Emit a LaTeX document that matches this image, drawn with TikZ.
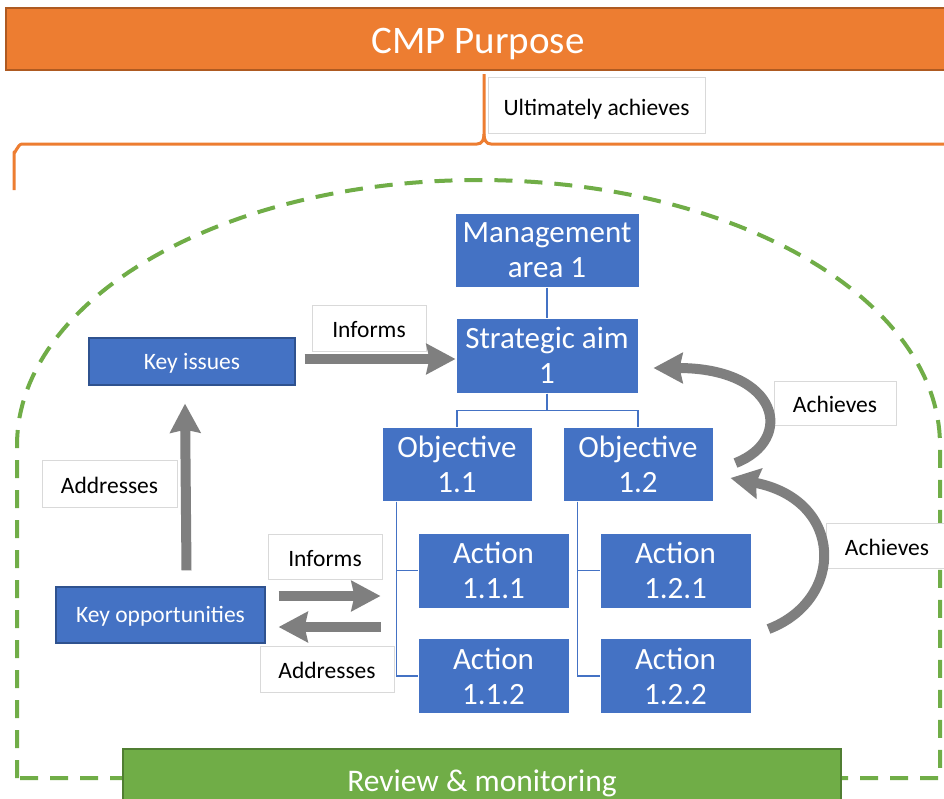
\documentclass[tikz,border=0pt]{standalone}
\usepackage{fontspec}
\setmainfont{Carlito}
\usetikzlibrary{arrows.meta,calc}
\definecolor{cblue}{HTML}{4472C4}
\definecolor{cblueedge}{HTML}{2F528F}
\definecolor{corange}{HTML}{ED7D31}
\definecolor{corangeedge}{HTML}{AE5A21}
\definecolor{cgreen}{HTML}{70AD47}
\definecolor{cgreenedge}{HTML}{507E32}
\definecolor{cgray}{HTML}{7F7F7F}
\definecolor{clabeledge}{HTML}{D9D9D9}
\begin{document}
\begin{tikzpicture}[x=1pt,y=-1pt,
  treebox/.style={rectangle, fill=cblue, draw=white, line width=1pt, text=white, inner sep=0pt, align=center, font=\fontsize{31}{35}\selectfont},
  keybox/.style={rectangle, fill=cblue, draw=cblueedge, line width=1.2pt, text=white, inner sep=0pt, text height=15.6pt, text depth=0pt, font=\fontsize{23.5}{28}\selectfont},
  lbl/.style={rectangle, fill=white, draw=clabeledge, line width=0.8pt, inner sep=0pt, text height=19pt, text depth=0pt, font=\fontsize{23.5}{28}\selectfont},
  treeline/.style={draw=cblue, line width=1.8pt},
  grayarrow/.style={draw=cgray, line width=10pt, -{Stealth[length=29pt,width=30pt,inset=3pt]}},
  dome/.style={draw=cgreen, line width=4pt, dash pattern=on 18pt off 12pt},
  bracket/.style={draw=corange, line width=3pt, line join=round}
]
\clip (0,0) rectangle (944,798);
\fill[white] (0,0) rectangle (944,798);

% green dashed dome
\draw[dome] (17,778) -- (17,445)
  -- plot[domain=180:0, samples=120] ({478.5+461.5*cos(\x)}, {445-265*sin(\x)})
  -- (940,778) -- cycle;

% review box
\node[rectangle, fill=cgreen, draw=cgreenedge, line width=1.2pt, text=white,
  minimum width=718pt, minimum height=62pt, inner sep=0pt, text height=22pt, text depth=0pt,
  font=\fontsize{31.5}{36}\selectfont] (review) at (482,780) {Review \& monitoring};

% orange bar
\node[rectangle, fill=corange, draw=corangeedge, line width=1.2pt, text=white,
  minimum width=944pt, minimum height=62pt, inner sep=0pt, text height=28pt, text depth=0pt,
  font=\fontsize{39}{44}\selectfont] (cmp) at (478,39) {CMP Purpose};

% bracket
\coordinate (brL) at (14,190);
\coordinate (brC) at (484,74);
\coordinate (brR) at (960,144);
\draw[bracket] (brL) -- (14,152) to[out=-90,in=180] (22,144) -- (477,144)
  .. controls (482,144) and (484,140) .. (484,134) -- (brC);
\draw[bracket] (484,134) .. controls (484,140) and (486,144) .. (491,144) -- (brR);

\node[lbl, minimum width=217pt, minimum height=56pt, text height=20pt] (ult) at (596.5,105) {Ultimately achieves};

% tree
\node[treebox, minimum width=184pt, minimum height=74pt] (mgmt) at (547,250) {Management\\area 1};
\node[treebox, minimum width=182pt, minimum height=75pt] (strat) at (547,355.5) {Strategic aim\\1};
\node[treebox, minimum width=150pt, minimum height=74pt] (obj11) at (457,464) {Objective\\1.1};
\node[treebox, minimum width=150pt, minimum height=74pt] (obj12) at (638,464) {Objective\\1.2};
\node[treebox, minimum width=151pt, minimum height=75pt] (a111) at (493.5,570.5) {Action\\1.1.1};
\node[treebox, minimum width=151pt, minimum height=75pt] (a112) at (493.5,676) {Action\\1.1.2};
\node[treebox, minimum width=151pt, minimum height=75pt] (a121) at (675.5,570.5) {Action\\1.2.1};
\node[treebox, minimum width=151pt, minimum height=75pt] (a122) at (675.5,676) {Action\\1.2.2};

\draw[treeline] (mgmt.south) -- (strat.north);
\draw[treeline] (strat.south) -- ++(0,17) -| (obj11.north);
\draw[treeline] (strat.south) -- ++(0,17) -| (obj12.north);
\draw[treeline] ($(obj11.south west)+(15,0)$) |- (a111.west);
\draw[treeline] ($(obj11.south west)+(15,0)$) |- (a112.west);
\draw[treeline] ($(obj12.south west)+(15,0)$) |- (a121.west);
\draw[treeline] ($(obj12.south west)+(15,0)$) |- (a122.west);

% key boxes
\node[keybox, minimum width=206pt, minimum height=47pt] (issues) at (192,361.5) {Key issues};
\node[keybox, minimum width=209pt, minimum height=56pt] (opps) at (160.5,615) {Key opportunities};

% labels
\node[lbl, minimum width=114pt, minimum height=46pt] (inf1) at (369,328) {Informs};
\node[lbl, minimum width=135pt, minimum height=47pt] (adr1) at (109.5,483.5) {Addresses};
\node[lbl, minimum width=114pt, minimum height=45pt] (inf2) at (325,556.5) {Informs};
\node[lbl, minimum width=134pt, minimum height=46pt] (adr2) at (327,669) {Addresses};
\node[lbl, minimum width=122pt, minimum height=44pt] (ach1) at (835,403) {Achieves};
\node[lbl, minimum width=122pt, minimum height=45pt] (ach2) at (887,545.5) {Achieves};

% gray arrows
\draw[grayarrow] ($(issues.east)+(9,-2.5)$) -- ($(strat.west |- issues.east)+(0,-2.5)$);
\draw[grayarrow] ($(opps.north)+(26,-16)$) -- ($(issues.south)+(-7,18)$);
\draw[grayarrow] ($(opps.east)+(13,-19)$) -- ($(a111.west |- opps.east)+(-37,-19)$);
\draw[grayarrow] ($(a111.west |- opps.east)+(-37,12)$) -- ($(opps.east)+(13,12)$);
\draw[grayarrow] ($(obj12.east)+(22,-1)$) .. controls (795,440) and (780,368) .. ($(strat.east)+(15,12.5)$);
\draw[grayarrow] ($(a122.north east)+(17,-9)$) .. controls (845,600) and (845,500) .. ($(obj12.east)+(17,14)$);
\end{tikzpicture}
\end{document}
